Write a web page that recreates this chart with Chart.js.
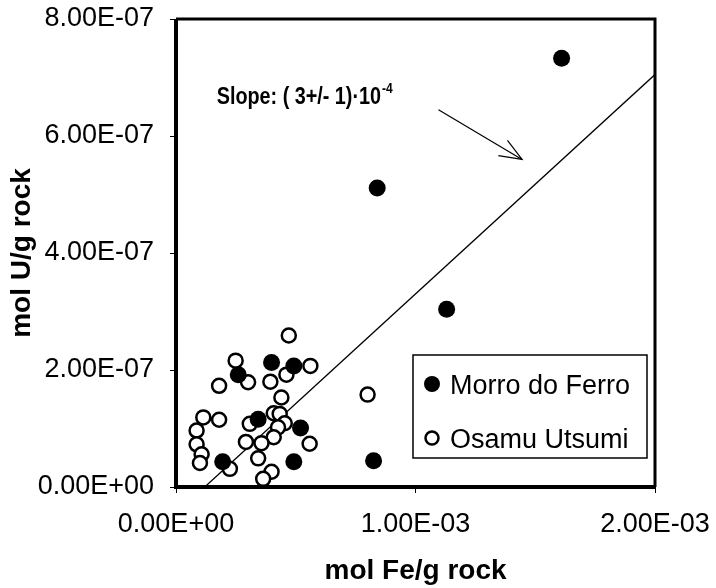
<!DOCTYPE html>
<html>
<head>
<meta charset="utf-8">
<script src="https://cdn.jsdelivr.net/npm/chart.js@4/dist/chart.umd.min.js"></script>
<style>
  html, body { margin: 0; padding: 0; background: #fff; }
  #wrap { width: 716px; height: 588px; }
</style>
</head>
<body>
<div id="wrap"><canvas id="c" width="716" height="588"></canvas></div>
<script>
// Morro do Ferro (filled dots)
const morroX = [0.399e-3, 0.492e-3, 0.260e-3, 0.343e-3, 0.520e-3, 0.195e-3, 0.492e-3, 0.825e-3, 0.840e-3, 1.130e-3, 1.610e-3];
const morroY = [2.13e-7, 2.07e-7, 1.92e-7, 1.16e-7, 1.01e-7, 0.43e-7, 0.43e-7, 0.45e-7, 5.11e-7, 3.04e-7, 7.33e-7];

// Osamu Utsumi (open circles)
const osamuX = [0.471e-3, 0.249e-3, 0.561e-3, 0.461e-3, 0.301e-3, 0.394e-3, 0.180e-3, 0.440e-3, 0.114e-3, 0.180e-3,
                0.408e-3, 0.433e-3, 0.308e-3, 0.454e-3, 0.086e-3, 0.426e-3, 0.408e-3, 0.357e-3, 0.292e-3, 0.558e-3,
                0.086e-3, 0.107e-3, 0.343e-3, 0.100e-3, 0.225e-3, 0.399e-3, 0.364e-3, 0.800e-3];
const osamuY = [2.59e-7, 2.16e-7, 2.07e-7, 1.92e-7, 1.79e-7, 1.80e-7, 1.73e-7, 1.53e-7, 1.19e-7, 1.15e-7,
                1.26e-7, 1.25e-7, 1.08e-7, 1.09e-7, 0.965e-7, 1.02e-7, 0.85e-7, 0.75e-7, 0.77e-7, 0.74e-7,
                0.73e-7, 0.56e-7, 0.49e-7, 0.41e-7, 0.31e-7, 0.26e-7, 0.14e-7, 1.58e-7];

// regression line end points
const fitX = [0.12e-3, 2.0e-3];
const fitY = [0, 7.05e-7];

// annotation: text anchor and arrow (data units)
const slopeText = 'Slope: ( 3+/- 1)\u00b710';
const slopeExp = '-4';
const slopeAt = [0.170e-3, 6.55e-7];
const arrowFrom = [1.096e-3, 6.45e-7];
const arrowTo = [1.445e-3, 5.6e-7];

const seriesNames = ['Morro do Ferro', 'Osamu Utsumi'];
const xTicks = [0, 1e-3, 2e-3];
const yTicks = [0, 2e-7, 4e-7, 6e-7, 8e-7];

const zip = (xs, ys) => xs.map((x, i) => ({ x, y: ys[i] }));

function sci(v) {
  if (Math.abs(v) < 1e-20) return '0.00E+00';
  const [m, e] = v.toExponential(2).split('e');
  const n = parseInt(e, 10);
  const sign = n < 0 ? '-' : '+';
  return m + 'E' + sign + String(Math.abs(n)).padStart(2, '0');
}

const FONT = '"Liberation Sans", Arial, sans-serif';

const frame = {
  id: 'frame',
  afterDatasetsDraw(chart) {
    const { ctx, chartArea: a, scales } = chart;
    ctx.save();
    ctx.strokeStyle = '#000';
    ctx.lineWidth = 4;
    ctx.beginPath();
    ctx.moveTo(a.left, a.top); ctx.lineTo(a.left, a.bottom); ctx.lineTo(a.right, a.bottom);
    ctx.stroke();
    ctx.lineWidth = 3;
    ctx.beginPath();
    ctx.moveTo(a.left, a.top); ctx.lineTo(a.right, a.top); ctx.lineTo(a.right, a.bottom);
    ctx.stroke();

    // slope label (slightly condensed like the scan)
    const sx = scales.x.getPixelForValue(slopeAt[0]);
    const sy = scales.y.getPixelForValue(slopeAt[1]);
    ctx.save();
    ctx.translate(sx, sy);
    ctx.scale(0.86, 1);
    ctx.fillStyle = '#000';
    ctx.textBaseline = 'alphabetic';
    ctx.font = 'bold 23px ' + FONT;
    ctx.fillText(slopeText, 0, 0);
    const w = ctx.measureText(slopeText).width;
    ctx.font = 'bold 14px ' + FONT;
    ctx.fillText(slopeExp, w + 1, -11);
    ctx.restore();

    // arrow
    const x1 = scales.x.getPixelForValue(arrowFrom[0]), y1 = scales.y.getPixelForValue(arrowFrom[1]);
    const x2 = scales.x.getPixelForValue(arrowTo[0]), y2 = scales.y.getPixelForValue(arrowTo[1]);
    ctx.lineWidth = 1.2;
    ctx.beginPath(); ctx.moveTo(x1, y1); ctx.lineTo(x2, y2); ctx.stroke();
    const ang = Math.atan2(y2 - y1, x2 - x1);
    const len = 24;
    ctx.beginPath();
    ctx.moveTo(x2 - len * Math.cos(ang - 0.38), y2 - len * Math.sin(ang - 0.38));
    ctx.lineTo(x2, y2);
    ctx.lineTo(x2 - len * Math.cos(ang + 0.38), y2 - len * Math.sin(ang + 0.38));
    ctx.stroke();

    // legend box
    const lx = a.left + 237, ly = a.top + 336, lw = 234, lh = 103;
    ctx.lineWidth = 1.5;
    ctx.strokeRect(lx, ly, lw, lh);
    ctx.font = '27px ' + FONT;
    chart.data.datasets.slice(0, 2).forEach((ds, i) => {
      const cy = ly + 29 + i * 54;
      ctx.beginPath();
      ctx.arc(lx + 19, cy, i === 0 ? 8 : 6.5, 0, Math.PI * 2);
      if (i === 0) { ctx.fillStyle = '#000'; ctx.fill(); }
      else { ctx.lineWidth = 2.5; ctx.fillStyle = '#fff'; ctx.fill(); ctx.stroke(); }
      ctx.fillStyle = '#000';
      ctx.fillText(ds.label, lx + 37, cy + 10);
    });
    ctx.restore();
  }
};

new Chart(document.getElementById('c'), {
  type: 'scatter',
  data: {
    datasets: [
      { label: seriesNames[0], data: zip(morroX, morroY), order: 1,
        pointRadius: 8.5, pointBackgroundColor: '#000', pointBorderColor: '#000', pointBorderWidth: 0 },
      { label: seriesNames[1], data: zip(osamuX, osamuY), order: 2,
        pointRadius: 7, pointBackgroundColor: '#fff', pointBorderColor: '#000', pointBorderWidth: 2.5 },
      { label: 'fit', data: zip(fitX, fitY), order: 3, showLine: true,
        borderColor: '#000', borderWidth: 1.3, pointRadius: 0 }
    ]
  },
  options: {
    responsive: false,
    animation: false,
    layout: { padding: { top: 19, right: 61, bottom: 0, left: 0 } },
    plugins: { legend: { display: false }, tooltip: { enabled: false } },
    scales: {
      x: {
        type: 'linear', min: 0, max: 2e-3,
        afterBuildTicks: s => { s.ticks = xTicks.map(v => ({ value: v })); },
        afterFit: s => { s.height = 101; s.paddingLeft = 0; s.paddingRight = 0; },
        grid: { drawOnChartArea: false, drawTicks: true, tickLength: 6, color: '#000' },
        border: { display: false },
        ticks: { callback: v => sci(v), color: '#000', padding: 15, maxRotation: 0,
                 font: { family: FONT, size: 27 } },
        title: { display: true, text: 'mol Fe/g rock', color: '#000', padding: { top: 0, bottom: 0 },
                 font: { family: FONT, size: 28, weight: 'bold' } }
      },
      y: {
        type: 'linear', min: 0, max: 8e-7,
        afterBuildTicks: s => { s.ticks = yTicks.map(v => ({ value: v })); },
        afterFit: s => { s.width = 176; s.paddingTop = 0; s.paddingBottom = 0; },
        grid: { drawOnChartArea: false, drawTicks: true, tickLength: 6, color: '#000' },
        border: { display: false },
        ticks: { callback: v => sci(v), color: '#000', padding: 16,
                 font: { family: FONT, size: 27 } },
        title: { display: true, text: 'mol U/g rock', color: '#000', padding: { top: 5, bottom: 0 },
                 font: { family: FONT, size: 28, weight: 'bold' } }
      }
    }
  },
  plugins: [frame]
});
</script>
</body>
</html>
